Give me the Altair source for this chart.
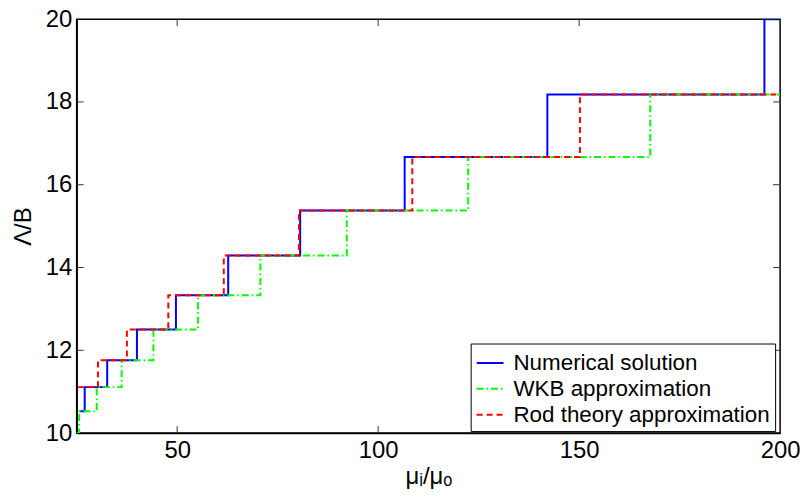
import altair as alt
import pandas as pd

# Step breakpoints (x where each level starts) and levels (Λ/B)
num_x = [25.7, 27.0, 32.6, 40.0, 49.7, 62.7, 80.6, 106.6, 142.1, 196.1, 200.0]
num_y = [10.53, 11.11, 11.76, 12.50, 13.33, 14.29, 15.38, 16.67, 18.18, 20.0, 20.0]

wkb_x = [25.0, 25.6, 30.0, 36.2, 44.1, 55.2, 70.7, 92.2, 122.4, 167.7, 200.0]
wkb_y = [10.0, 10.53, 11.11, 11.76, 12.50, 13.33, 14.29, 15.38, 16.67, 18.18, 18.18]

rod_x = [25.3, 30.3, 37.5, 47.8, 61.6, 80.3, 108.5, 150.2, 200.0]
rod_y = [11.11, 11.76, 12.50, 13.33, 14.29, 15.38, 16.67, 18.18, 18.18]

series_names = ["Numerical solution", "WKB approximation", "Rod theory approximation"]
series_colors = ["#0000FF", "#00FF00", "#FF0000"]
series_dash = [[1, 0], [7, 3, 1.5, 3], [6, 4]]

x_ticks = [50, 100, 150, 200]
y_ticks = [10, 12, 14, 16, 18, 20]

rows = []
for order, (name, xs, ys) in enumerate(zip(series_names, [num_x, wkb_x, rod_x], [num_y, wkb_y, rod_y])):
    for i, (xv, yv) in enumerate(zip(xs, ys)):
        rows.append({"series": name, "x": xv, "y": yv, "order": order, "i": i})
df = pd.DataFrame(rows)

W, H = 707, 416
FONT = "Liberation Sans"

xscale = alt.Scale(domain=[25, 200], nice=False, zero=False)
yscale = alt.Scale(domain=[10, 20], nice=False, zero=False)

lines = alt.Chart(df).mark_line(interpolate="step-after", strokeWidth=2, clip=True).encode(
    x=alt.X("x:Q", scale=xscale,
            axis=alt.Axis(values=x_ticks, title="μᵢ/μₒ", grid=False, tickSize=0, labelPadding=6,
                          labelFontSize=24, titleFontSize=24, titleFontWeight="normal",
                          labelFont=FONT, titleFont=FONT, titlePadding=2, domainColor="black",
                          labelColor="black", titleColor="black", labelFlush=False)),
    y=alt.Y("y:Q", scale=yscale,
            axis=alt.Axis(values=y_ticks, title="Λ/B", grid=False, tickSize=0, labelPadding=5,
                          labelFontSize=24, titleFontSize=24, titleFontWeight="normal",
                          labelFont=FONT, titleFont=FONT, titlePadding=10, domainColor="black",
                          labelColor="black", titleColor="black", labelFlush=False)),
    color=alt.Color("series:N", scale=alt.Scale(domain=series_names, range=series_colors),
                    sort=series_names,
                    legend=alt.Legend(title=None, orient="none", legendX=396, legendY=326,
                                      fillColor="white", strokeColor="black", padding=5,
                                      labelFontSize=22.5, labelFont=FONT, labelColor="black",
                                      symbolType="stroke", symbolSize=729, symbolStrokeWidth=2,
                                      rowPadding=0, labelOffset=9, labelLimit=400)),
    strokeDash=alt.StrokeDash("series:N", scale=alt.Scale(domain=series_names, range=series_dash),
                              sort=series_names, legend=None),
    detail="series:N",
    order="i:Q",
)

xt = pd.DataFrame({"v": x_ticks[:-1]})
yt = pd.DataFrame({"v": y_ticks[1:-1]})
tick_style = dict(color="#333333", strokeWidth=1)
xb = alt.Chart(xt).mark_rule(**tick_style).encode(x=alt.X("v:Q", scale=xscale), y=alt.value(H), y2=alt.value(H - 7))
xtop = alt.Chart(xt).mark_rule(**tick_style).encode(x=alt.X("v:Q", scale=xscale), y=alt.value(0), y2=alt.value(7))
yl = alt.Chart(yt).mark_rule(**tick_style).encode(y=alt.Y("v:Q", scale=yscale), x=alt.value(0), x2=alt.value(7))
yr = alt.Chart(yt).mark_rule(**tick_style).encode(y=alt.Y("v:Q", scale=yscale), x=alt.value(W), x2=alt.value(W - 7))

chart = alt.layer(xb, xtop, yl, yr, lines).properties(
    width=W, height=H,
    autosize=alt.AutoSizeParams(type="none"),
    padding={"left": 69, "top": 10, "right": 20, "bottom": 55},
).configure_view(stroke="black", strokeWidth=1.5).configure_axis(domainWidth=1.5)

chart.save("out.html", embed_options={"renderer": "svg", "actions": False})
